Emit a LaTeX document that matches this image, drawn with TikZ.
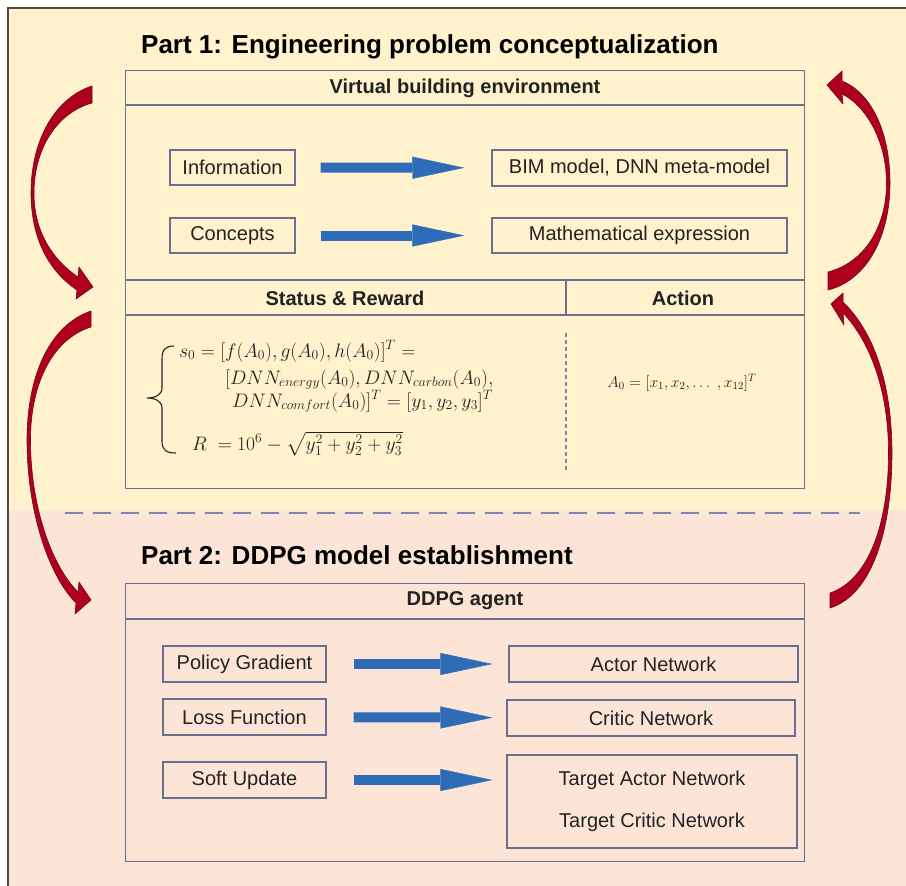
\documentclass[tikz,border=0pt]{standalone}
\usepackage{amsmath}
\usepackage{fontspec}
\setmainfont{Liberation Sans}
\usetikzlibrary{arrows.meta,calc}
\definecolor{bgtop}{HTML}{FFF2CC}
\definecolor{bgbot}{HTML}{FCE5D7}
\definecolor{boxline}{HTML}{6A7090}
\definecolor{dashline}{HTML}{7C86B0}
\definecolor{arrowblue}{HTML}{2E6CB8}
\definecolor{darkred}{HTML}{B00020}
\definecolor{redline}{HTML}{6A0A1C}
\definecolor{txt}{HTML}{222222}
\newcommand{\eqsc}[1]{\scalebox{1.13}{$#1$}}
\begin{document}
\begin{tikzpicture}[x=1pt,y=-1pt,
  frame/.style={draw=boxline, line width=1.4pt},
  box/.style={draw=boxline, line width=1.3pt, inner sep=0pt, text=txt, font=\fontsize{20}{24}\selectfont},
  hdr/.style={text=txt, inner sep=0pt, font=\bfseries\fontsize{20}{24}\selectfont},
  ttl/.style={text=black, inner sep=0pt, anchor=base west, font=\bfseries\fontsize{26}{30}\selectfont},
  eq/.style={text=txt, inner sep=0pt, anchor=base west, font=\fontsize{17.28}{21}\selectfont},
  blockarrow/.style={draw=arrowblue, line width=10pt, -{Triangle[length=52pt,width=22pt,line width=0.4pt]}},
  redarrow/.style={fill=darkred, draw=redline, line width=0.6pt, line join=round}
]
\useasboundingbox (0,0) rectangle (906,886);
\fill[white] (0,0) rectangle (906,886);
\fill[bgtop] (8,8) rectangle (906,510);
\fill[bgbot] (8,510) rectangle (906,886);
\draw[gray!60!black, line width=1.6pt] (8,886) -- (8,8) -- (906,8);

% ---------- Part 1 ----------
\node[ttl] (t1) at (141,53) {Part 1: Engineering problem conceptualization};
\node[frame, minimum width=679pt, minimum height=418pt, anchor=north west, inner sep=0pt] (p1) at (125,70) {};
\draw[frame] (125,105) -- (804,105);
\draw[frame] (125,280) -- (804,280);
\draw[frame] (125,315) -- (804,315);
\draw[frame] (566,280) -- (566,315);
\node[hdr] (vbe) at (465,88) {Virtual building environment};

\node[box, minimum width=125pt, minimum height=35pt] (info) at (232.5,167.5) {Information};
\node[box, minimum width=295pt, minimum height=36pt] (bim) at (639.5,168) {BIM model, DNN meta-model};
\node[box, minimum width=125pt, minimum height=35pt] (conc) at (232.5,235.5) {Concepts};
\node[box, minimum width=295pt, minimum height=35pt] (mexp) at (639.5,235.5) {Mathematical expression};
\draw[blockarrow, shorten <=25pt, shorten >=27pt] (info) -- (bim);
\draw[blockarrow, shorten <=25pt, shorten >=27pt] (conc) -- (mexp);

\node[hdr] (sr) at (345,298) {Status \& Reward};
\node[hdr] (act) at (683,298) {Action};

% formulas
\draw[txt, line width=1.1pt] (174,346) .. controls (166,346) and (162,349) .. (162,359) -- (162,388)
  .. controls (162,395) and (155,398) .. (147,398) .. controls (155,398) and (162,401) .. (162,408)
  -- (162,441) .. controls (162,450) and (166,453) .. (176,453);
\node[eq] (f1) at (179,357) {\eqsc{s_0 = [f(A_0), g(A_0), h(A_0)]^T =}};
\node[eq] (f2) at (225,384) {\eqsc{[DNN_{energy}(A_0), DNN_{carbon}(A_0),}};
\node[eq] (f3) at (232,407) {\eqsc{DNN_{comfort}(A_0)]^T = [y_1, y_2, y_3]^T}};
\node[eq] (f4) at (192,450) {\eqsc{R\ = 10^6 - \sqrt{y_1^2 + y_2^2 + y_3^2}}};
\draw[dashline, line width=1.2pt, dash pattern=on 4pt off 3pt] (566,333) -- (566,473);
\node[text=txt, font=\fontsize{14.4}{18}\selectfont] (a0) at (682,383) {\scalebox{1.08}{$A_0 = [x_1, x_2, \dots\ , x_{12}]^T$}};

% dashed separator
\draw[dashline, line width=1.6pt, dash pattern=on 18pt off 10pt] (65,513) -- (860,513);

% ---------- Part 2 ----------
\node[ttl] (t2) at (141,564) {Part 2: DDPG model establishment};
\node[frame, minimum width=679pt, minimum height=278pt, anchor=north west, inner sep=0pt] (p2) at (125,583) {};
\draw[frame] (125,619) -- (804,619);
\node[hdr] (agent) at (465,601) {DDPG agent};

\node[box, minimum width=163pt, minimum height=36pt] (pg) at (244.5,664) {Policy Gradient};
\node[box, minimum width=163pt, minimum height=36pt] (lf) at (244.5,717) {Loss Function};
\node[box, minimum width=163pt, minimum height=36pt] (su) at (244.5,780) {Soft Update};
\node[box, minimum width=289pt, minimum height=36pt] (an) at (653.5,664) {Actor Network};
\node[box, minimum width=288pt, minimum height=36pt] (cn) at (651,718) {Critic Network};
\node[box, minimum width=290pt, minimum height=93pt, align=center] (tn) at (652,801.5) {Target Actor Network\\[18pt]Target Critic Network};
\draw[blockarrow, shorten <=27pt, shorten >=16pt] (pg) -- (an);
\draw[blockarrow, shorten <=27pt, shorten >=14pt] (lf) -- (cn);
\draw[blockarrow, shorten <=27pt, shorten >=14pt] (su) -- (su -| tn.west);

% ---------- red curved arrows ----------
\draw[redarrow] (92,86) .. controls (55,98) and (31,140) .. (31,193)
  .. controls (31,240) and (50,272) .. (77,290) -- (76,299) -- (93,287) -- (79,267) -- (78,277)
  .. controls (53,260) and (34,232) .. (34,193) .. controls (34,150) and (56,113) .. (92,103) -- cycle;
\draw[redarrow] (91,311) .. controls (50,325) and (27,375) .. (27,440)
  .. controls (27,510) and (48,575) .. (76,603) -- (75,614) -- (91,600) -- (79,582) -- (78,592)
  .. controls (51,565) and (30.5,505) .. (30.5,440) .. controls (30.5,380) and (55,338) .. (91,327) -- cycle;
\draw[redarrow] (828,290) .. controls (868,280) and (890,235) .. (890,183)
  .. controls (890,130) and (870,92) .. (842,81) -- (842,71) -- (827,85) -- (843,104) -- (842,94)
  .. controls (865,105) and (886.5,140) .. (886.5,183) .. controls (886.5,225) and (866,262) .. (828,272) -- cycle;
\draw[redarrow] (830,608) .. controls (872,595) and (892,530) .. (892,453)
  .. controls (892,380) and (872,330) .. (843,302) -- (843,293) -- (831,304) -- (844,325) -- (843,313)
  .. controls (867,338) and (888.5,385) .. (888.5,453) .. controls (888.5,525) and (868,580) .. (830,593) -- cycle;
\end{tikzpicture}
\end{document}
